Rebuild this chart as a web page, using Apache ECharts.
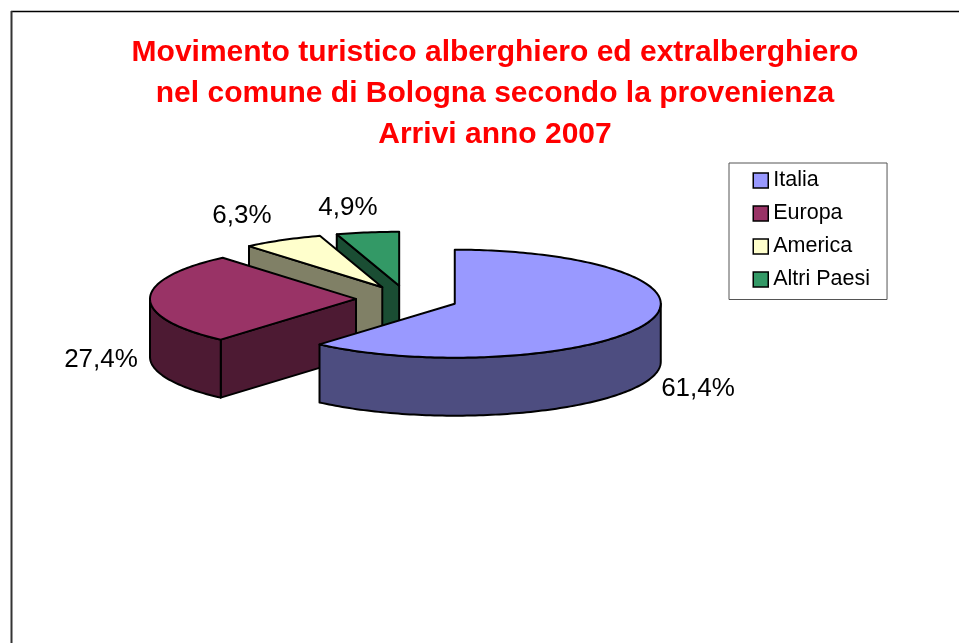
<!DOCTYPE html>
<html><head><meta charset="utf-8">
<style>html,body{margin:0;padding:0;background:#fff}#c{width:959px;height:643px}</style>
<script src="https://cdn.jsdelivr.net/npm/echarts@6/dist/echarts.min.js"></script>
</head><body><div id="c"></div>
<script>
const categories = ['Italia', 'Europa', 'America', 'Altri Paesi'];
const values = [61.4, 27.4, 6.3, 4.9];
const topColors = ['#9999FF', '#993366', '#FFFFCC', '#339966'];
const sideColors = ['#4D4D80', '#4D1A33', '#808066', '#1A4D33'];
const titleLines = ['Movimento turistico alberghiero ed extralberghiero', 'nel comune di Bologna secondo la provenienza', 'Arrivi anno 2007'];

// layout of the projected pie
const center = [407, 299], rx = 206, ry = 54, depth = 58, explode = 51;
const labelAnchor = [[698, 389], [101, 360], [242, 216], [348, 208]];

const total = values.reduce((a, b) => a + b, 0);
function angles(i) {
  let a = 0;
  for (let k = 0; k < i; k++) a += values[k];
  return [a / total * 2 * Math.PI, (a + values[i]) / total * 2 * Math.PI];
}
function sliceShapes(params, api) {
  const i = params.seriesIndex;
  const value = api.value(0);
  const [a0, a1] = angles(i);
  const mid = (a0 + a1) / 2;
  const cx = center[0] + explode * Math.sin(mid);
  const cy = center[1] - explode * Math.cos(mid) * ry / rx;
  const pt = (a, dz) => [cx + rx * Math.sin(a), cy - ry * Math.cos(a) + (dz || 0)];
  const arc = (from, to, dz) => {
    const n = Math.max(2, Math.ceil(Math.abs(to - from) / 0.02));
    const out = [];
    for (let k = 0; k <= n; k++) out.push(pt(from + (to - from) * k / n, dz));
    return out;
  };
  const side = { fill: sideColors[i], stroke: '#000', lineWidth: 2, lineJoin: 'round' };
  const top = { fill: topColors[i], stroke: '#000', lineWidth: 2, lineJoin: 'round' };
  const poly = (points, style) => ({ type: 'polygon', shape: { points }, style });
  const children = [];
  // cut faces that turn towards the viewer
  const cut = a => poly([[cx, cy], pt(a), pt(a, depth), [cx, cy + depth]], side);
  if (Math.sin(a0) < -1e-6) children.push(cut(a0));
  if (Math.sin(a1) > 1e-6) children.push(cut(a1));
  // outer wall: the part of the rim that faces the viewer (90deg..270deg)
  const w0 = Math.max(a0, Math.PI / 2), w1 = Math.min(a1, 1.5 * Math.PI);
  if (w1 > w0) {
    children.push(poly(arc(w0, w1, 0).concat(arc(w1, w0, depth)), side));
  }
  // top face
  children.push(poly([[cx, cy]].concat(arc(a0, a1, 0)), top));
  children.push({
    type: 'text', x: labelAnchor[i][0], y: labelAnchor[i][1],
    style: {
      text: value.toFixed(1).replace('.', ',') + '%', fill: '#000', align: 'center', verticalAlign: 'middle',
      font: '26px "Liberation Sans"'
    }
  });
  return { type: 'group', children };
}

const drawOrder = [3, 2, 1, 0];
const chart = echarts.init(document.getElementById('c'), null, { renderer: 'canvas' });
chart.setOption({
  animation: false,
  backgroundColor: '#fff',
  title: {
    text: titleLines.join('\n'), left: 490, top: 27, textAlign: 'center',
    textStyle: { color: '#FF0000', fontFamily: 'Liberation Sans', fontWeight: 'bold', fontSize: 30, lineHeight: 41 }
  },
  legend: {
    data: categories, orient: 'vertical', left: 729, top: 163,
    padding: [4, 17, 6.5, 23.5], itemGap: 6, itemWidth: 15, itemHeight: 15,
    borderColor: '#555', borderWidth: 1, backgroundColor: '#fff',
    icon: 'rect', itemStyle: { borderColor: '#000', borderWidth: 1.5 },
    textStyle: { color: '#000', fontFamily: 'Liberation Sans', fontSize: 21.5, lineHeight: 23, padding: [0, 0, 4, 0] }
  },
  series: categories.map((name, i) => ({
    type: 'custom', name, coordinateSystem: 'none', silent: true,
    z: 2 + drawOrder.indexOf(i),
    itemStyle: { color: topColors[i], borderColor: '#000', borderWidth: 1.5 },
    data: [[values[i]]],
    encode: { value: 0 },
    renderItem: sliceShapes
  })),
  graphic: [
    { type: 'line', silent: true, z: 0, shape: { x1: 11, y1: 11.5, x2: 959, y2: 11.5 }, style: { stroke: '#000', lineWidth: 1.5 } },
    { type: 'line', silent: true, z: 0, shape: { x1: 11.5, y1: 11, x2: 11.5, y2: 643 }, style: { stroke: '#333', lineWidth: 2 } }
  ]
});
</script></body></html>
